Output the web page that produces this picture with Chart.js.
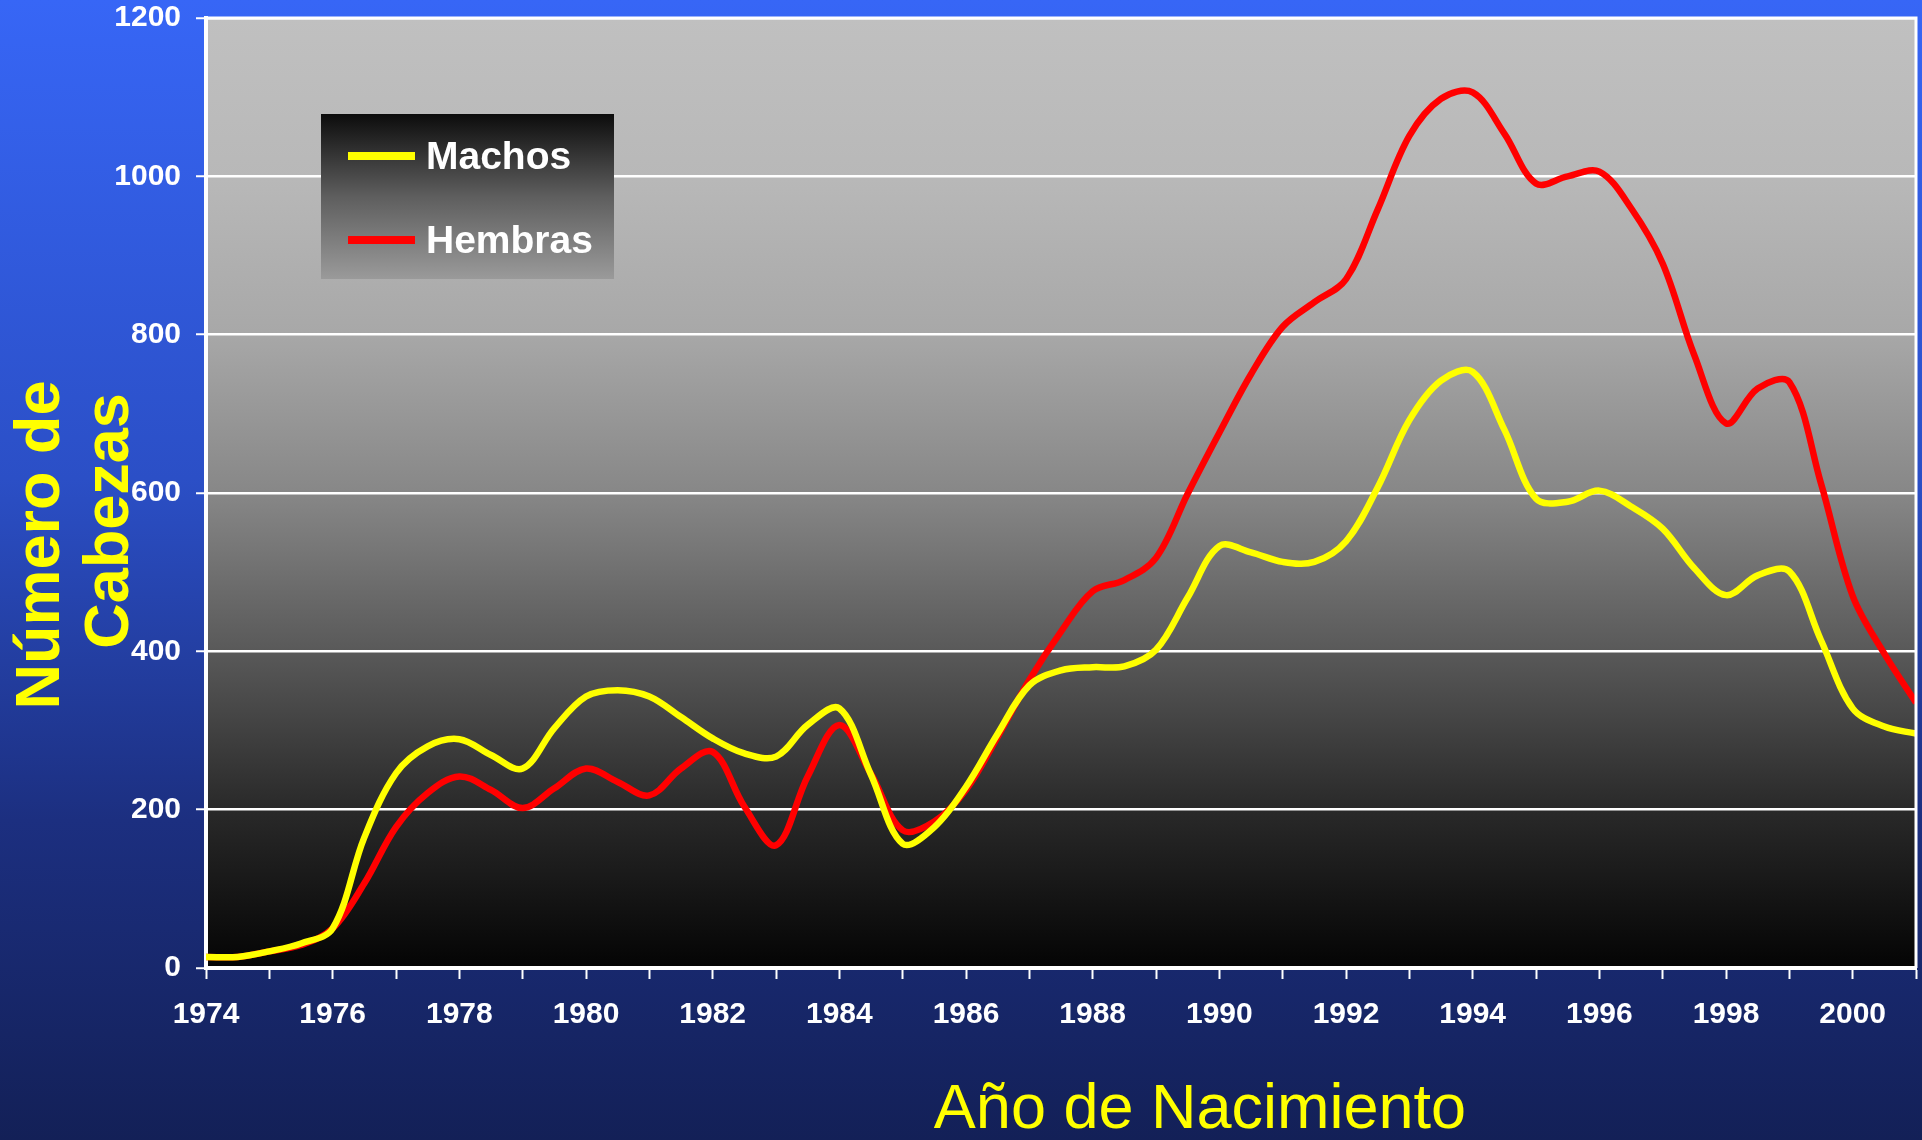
<!DOCTYPE html>
<html lang="es">
<head>
<meta charset="utf-8">
<title>Número de Cabezas por Año de Nacimiento</title>
<script src="https://cdn.jsdelivr.net/npm/chart.js@4.4.1/dist/chart.umd.min.js"></script>
<style>
	html, body {
		margin: 0;
		padding: 0;
		overflow: hidden;
	}
	body {
		width: 1922px;
		height: 1140px;
		background: linear-gradient(to bottom, #3766f6 0%, #2b4fc6 42%, #1c2f80 72%, #132057 100%);
	}
	canvas {
		display: block;
	}
</style>
</head>
<body>
<canvas id="cabezasChart" width="1922" height="1140"></canvas>
<script>
// half-year steps
const years = [
	1974, 1974.5, 1975, 1975.5, 1976, 1976.5, 1977, 1977.5, 1978, 1978.5,
	1979, 1979.5, 1980, 1980.5, 1981, 1981.5, 1982, 1982.5, 1983, 1983.5,
	1984, 1984.5, 1985, 1985.5, 1986, 1986.5, 1987, 1987.5, 1988, 1988.5,
	1989, 1989.5, 1990, 1990.5, 1991, 1991.5, 1992, 1992.5, 1993, 1993.5,
	1994, 1994.5, 1995, 1995.5, 1996, 1996.5, 1997, 1997.5, 1998, 1998.5,
	1999, 1999.5, 2000, 2000.5, 2001,
];
const machos = [
	14, 14, 21, 31, 50, 165, 246, 280, 289, 269,
	252, 303, 343, 351, 343, 317, 290, 271, 267, 307,
	328, 244, 157, 178, 229, 296, 357, 376, 380, 381,
	402, 468, 533, 525, 513, 513, 539, 607, 692, 742,
	753, 680, 593, 589, 603, 583, 555, 505, 471, 496,
	501, 414, 328, 305, 296,
];
const hembras = [
	14, 14, 21, 29, 50, 107, 178, 221, 242, 225,
	202, 227, 252, 235, 218, 252, 273, 204, 155, 242,
	307, 245, 174, 185, 225, 292, 364, 425, 476, 490,
	518, 599, 676, 750, 810, 841, 870, 958, 1051, 1098,
	1106, 1054, 991, 1000, 1006, 960, 890, 774, 688, 732,
	740, 612, 470, 397, 335,
];
const seriesNames = ["Machos", "Hembras"];
const yTitle = ["Número de", "Cabezas"];
const xTitle = "Año de Nacimiento";

const FONT = "'Liberation Sans', Arial, sans-serif";

function toPoints(values) {
	return years.map(function (yr, i) {
		return { x: yr, y: values[i] };
	});
}

// stop chart.js from reserving extra room for the edge labels
function noEdgePadding(scale) {
	scale.paddingTop = 0;
	scale.paddingBottom = 0;
	scale.paddingLeft = 0;
	scale.paddingRight = 0;
}

// grey-to-black panel behind the lines, plus top/right frame
const plotBackground = {
	id: "plotBackground",
	beforeDraw: function (chart) {
		const c = chart.ctx;
		const a = chart.chartArea;
		const g = c.createLinearGradient(0, a.top, 0, a.bottom);
		g.addColorStop(0, "#c0c0c0");
		g.addColorStop(0.17, "#b8b8b8");
		g.addColorStop(0.33, "#a8a8a8");
		g.addColorStop(0.5, "#878787");
		g.addColorStop(0.67, "#585858");
		g.addColorStop(0.83, "#2a2a2a");
		g.addColorStop(1, "#040404");
		c.save();
		c.fillStyle = g;
		c.fillRect(a.left, a.top, a.right - a.left, a.bottom - a.top);
		c.restore();
	},
	afterDatasetsDraw: function (chart) {
		const c = chart.ctx;
		const a = chart.chartArea;
		c.save();
		c.strokeStyle = "#ffffff";
		c.lineWidth = 3;
		c.beginPath();
		c.moveTo(a.left, a.top);
		c.lineTo(a.right, a.top);
		c.lineTo(a.right, a.bottom);
		c.stroke();
		c.restore();
	},
};

// legend box and axis titles
const annotations = {
	id: "annotations",
	afterDraw: function (chart) {
		const c = chart.ctx;
		c.save();

		const g = c.createLinearGradient(0, 114, 0, 279);
		g.addColorStop(0, "#0c0c0c");
		g.addColorStop(0.5, "#5e5e5e");
		g.addColorStop(1, "#9a9a9a");
		c.fillStyle = g;
		c.fillRect(321, 114, 293, 165);

		c.font = "bold 39px " + FONT;
		c.textBaseline = "middle";
		c.textAlign = "left";
		chart.data.datasets.forEach(function (ds, i) {
			const y = 156 + i * 84;
			c.strokeStyle = ds.borderColor;
			c.lineWidth = 8;
			c.beginPath();
			c.moveTo(348, y);
			c.lineTo(415, y);
			c.stroke();
			c.fillStyle = "#ffffff";
			c.fillText(ds.label, 426, y + 2);
		});

		c.fillStyle = "#ffff00";
		c.textAlign = "center";
		c.textBaseline = "alphabetic";
		c.font = "bold 63px " + FONT;
		const spots = [[59, 545], [128, 521]];
		yTitle.forEach(function (line, i) {
			c.save();
			c.translate(spots[i][0], spots[i][1]);
			c.rotate(-Math.PI / 2);
			c.fillText(line, 0, 0);
			c.restore();
		});

		c.font = "63px " + FONT;
		c.fillText(xTitle, 1200, 1128);
		c.restore();
	},
};

document.addEventListener("DOMContentLoaded", function () {
	const ctx = document.getElementById("cabezasChart").getContext("2d");

	new Chart(ctx, {
		type: "line",
		data: {
			datasets: [
				{
					label: seriesNames[0],
					data: toPoints(machos),
					borderColor: "#ffff00",
					borderWidth: 6.5,
					pointRadius: 0,
					tension: 0.35,
				},
				{
					label: seriesNames[1],
					data: toPoints(hembras),
					borderColor: "#ff0000",
					borderWidth: 6.5,
					pointRadius: 0,
					tension: 0.35,
				},
			],
		},
		options: {
			responsive: false,
			animation: false,
			layout: {
				padding: { left: 0, top: 18, right: 6, bottom: 0 },
			},
			plugins: {
				legend: { display: false },
				tooltip: { enabled: false },
			},
			scales: {
				x: {
					type: "linear",
					min: 1974,
					max: 2001,
					afterFit: function (scale) {
						scale.height = 172;
						noEdgePadding(scale);
					},
					ticks: {
						stepSize: 1,
						autoSkip: false,
						maxRotation: 0,
						padding: 18,
						color: "#ffffff",
						font: { family: FONT, size: 30, weight: "bold" },
						callback: function (v) {
							return v % 2 === 0 ? String(v) : "";
						},
					},
					grid: {
						drawOnChartArea: false,
						tickLength: 11,
						tickColor: "#ffffff",
						tickWidth: 2,
					},
					border: { color: "#ffffff", width: 4 },
				},
				y: {
					min: 0,
					max: 1200,
					afterFit: function (scale) {
						scale.width = 206;
						noEdgePadding(scale);
					},
					ticks: {
						stepSize: 200,
						padding: 15,
						color: "#ffffff",
						font: { family: FONT, size: 30, weight: "bold" },
						callback: function (v) {
							return String(v);
						},
					},
					grid: {
						color: "#ffffff",
						lineWidth: 2.5,
						tickLength: 10,
						tickColor: "#ffffff",
						tickWidth: 2,
					},
					border: { color: "#ffffff", width: 4 },
				},
			},
		},
		plugins: [plotBackground, annotations],
	});
});
</script>
</body>
</html>
